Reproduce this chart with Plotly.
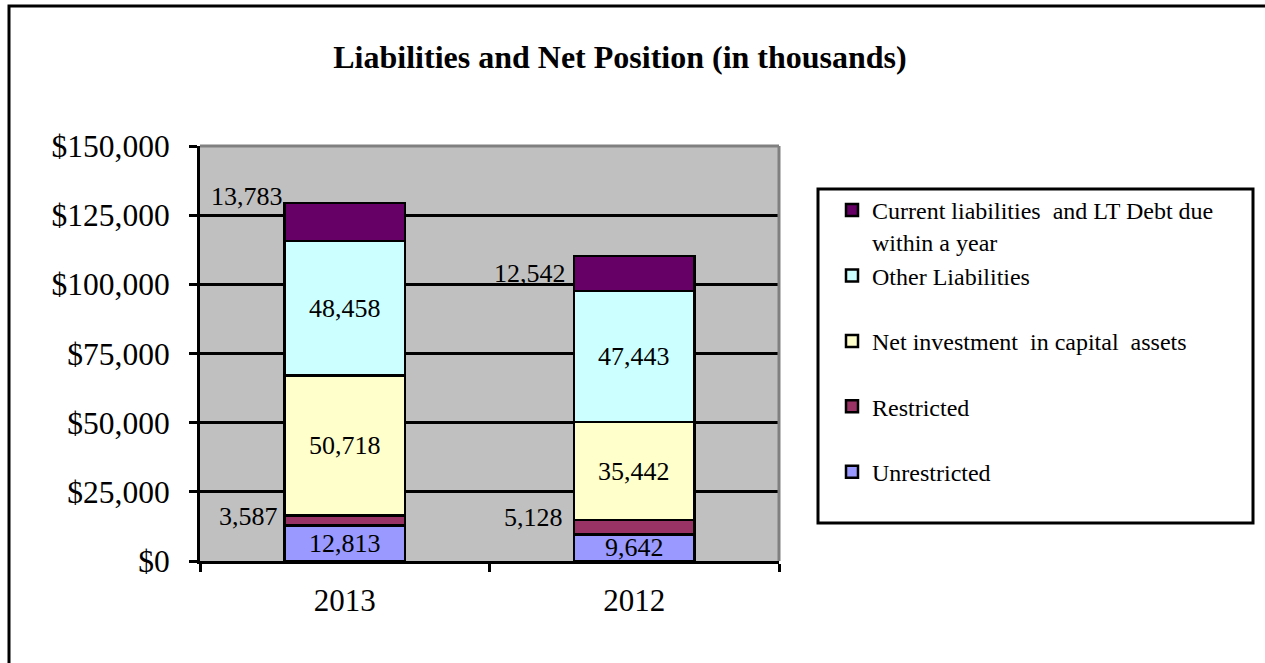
import plotly.graph_objects as go

# ---------------- data ----------------
years = ["2013", "2012"]
unrestricted = [12813, 9642]
restricted = [3587, 5128]
net_investment = [50718, 35442]
other_liabilities = [48458, 47443]
current_liabilities = [13783, 12542]

series_names = [
    "Unrestricted",
    "Restricted",
    "Net investment  in capital  assets",
    "Other Liabilities",
    "Current liabilities  and LT Debt due<br>within a year",
]
series_values = [unrestricted, restricted, net_investment, other_liabilities, current_liabilities]
y_tick_values = [0, 25000, 50000, 75000, 100000, 125000, 150000]
y_tick_labels = ["$0", "$25,000", "$50,000", "$75,000", "$100,000", "$125,000", "$150,000"]
title_text = "Liabilities and Net Position (in thousands)"

# ---------------- style ----------------
colors = ["#9999FF", "#993366", "#FFFFCC", "#CCFFFF", "#660066"]
label_mode = ["inside", "left", "inside", "inside", "left"]
left_label_shift = {  # (series, year) -> (xshift, yshift) in px
    (1, 0): (-65, 4), (1, 1): (-69, 10), (4, 0): (-60, 26), (4, 1): (-66, 0)}
FONT = "Liberation Serif"
W, H = 1265, 663
L, R, T, B = 200, 779, 146, 561


def px_x(p):
    return (p - L) / (R - L)


def px_y(p):
    return (B - p) / (B - T)


fig = go.Figure()
n = len(series_names)
for i, (name, vals) in enumerate(zip(series_names, series_values)):
    shown = name if "<br>" in name else name + "<br>\u00a0"
    fig.add_trace(go.Bar(
        x=years, y=vals, name=shown,
        marker=dict(color=colors[i], line=dict(color="black", width=2.5)),
        width=0.415, legendrank=n - i,
        hoverinfo="skip",
    ))

# data labels
annotations = []
cum = [0, 0]
for i, vals in enumerate(series_values):
    for j, v in enumerate(vals):
        center = cum[j] + v / 2
        if label_mode[i] == "inside":
            annotations.append(dict(
                x=j, y=center, xref="x", yref="y", text=f"{v:,}",
                showarrow=False, xanchor="center", yanchor="middle",
                font=dict(family=FONT, size=26, color="black")))
        else:
            xs, ys = left_label_shift.get((i, j), (-65, 0))
            annotations.append(dict(
                x=j, y=center, xref="x", yref="y", text=f"{v:,}",
                showarrow=False, xanchor="right", yanchor="middle",
                xshift=xs, yshift=ys,
                font=dict(family=FONT, size=26, color="black")))
    cum = [c + v for c, v in zip(cum, vals)]

shapes = [
    # top & right plot-area border (gray)
    dict(type="line", xref="paper", yref="paper", x0=0, x1=1, y0=1, y1=1,
         line=dict(color="#808080", width=3), layer="above"),
    dict(type="line", xref="paper", yref="paper", x0=1, x1=1, y0=0, y1=1,
         line=dict(color="#808080", width=3), layer="above"),
    # legend box
    dict(type="rect", xref="paper", yref="paper",
         x0=px_x(818), x1=px_x(1253), y0=px_y(523), y1=px_y(189),
         line=dict(color="black", width=3), fillcolor="rgba(0,0,0,0)", layer="below"),
    # outer chart border
    dict(type="rect", xref="paper", yref="paper",
         x0=px_x(9), x1=px_x(1275), y0=px_y(675), y1=px_y(6),
         line=dict(color="black", width=3), fillcolor="rgba(0,0,0,0)", layer="below"),
]

fig.update_layout(
    width=W, height=H,
    barmode="stack",
    plot_bgcolor="#C0C0C0", paper_bgcolor="white",
    margin=dict(l=L, r=W - R, t=T, b=H - B, pad=0),
    font=dict(family=FONT, color="black"),
    title=dict(text=f"<b>{title_text}</b>", x=px_x(620), xref="paper", xanchor="center",
               y=1 - 57 / H, yref="container", yanchor="middle",
               font=dict(family=FONT, size=32, color="black")),
    showlegend=True,
    legend=dict(
        x=px_x(832), y=px_y(188), xanchor="left", yanchor="top",
        traceorder="normal", valign="top",
        font=dict(family=FONT, size=24, color="black"),
        bgcolor="rgba(0,0,0,0)", borderwidth=0,
    ),
    annotations=annotations,
    shapes=shapes,
)

fig.update_xaxes(
    type="category", showgrid=False, showline=True, linecolor="black", linewidth=3,
    ticks="outside", tickson="boundaries", ticklen=8, tickwidth=3, tickcolor="black",
    tickfont=dict(family=FONT, size=31, color="black"), ticklabelstandoff=10,
    zeroline=False,
)
fig.update_yaxes(
    range=[0, 150000], tickmode="array", tickvals=y_tick_values, ticktext=y_tick_labels,
    showgrid=True, gridcolor="black", gridwidth=2.5,
    showline=True, linecolor="black", linewidth=3,
    ticks="outside", ticklen=8, tickwidth=3, tickcolor="black",
    tickfont=dict(family=FONT, size=31.5, color="black"), ticklabelstandoff=13,
    zeroline=False,
)

fig.write_html(
    "out.html",
    config={"displayModeBar": False},
    post_script="document.body.style.margin='0';document.body.style.overflow='hidden';",
)
